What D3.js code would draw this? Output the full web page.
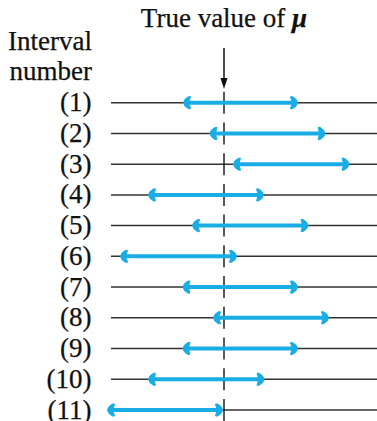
<!DOCTYPE html>
<html><head><meta charset="utf-8">
<script src="https://cdn.jsdelivr.net/npm/d3@7"></script>
<style>body{margin:0;background:#fff}svg{display:block}</style>
</head><body>
<script>
// Data (units relative to true mu = 0)
const intervalNumbers = [1,2,3,4,5,6,7,8,9,10,11];
const lowerBounds = [-4.05,-1.4,0.95,-7.55,-3.15,-10.35,-4.1,-1.05,-4.1,-7.55,-11.65];
const upperBounds = [7.35,10.1,12.5,3.95,8.4,1.25,7.35,10.45,7.35,4.0,-0.15];
const trueMu = 0;
const titleText = "True value of ";
const muSymbol = "μ";
const rowTitle = ["Interval","number"];

const W = 377, H = 421;
const svg = d3.select("body").append("svg").attr("width",W).attr("height",H);
const x = d3.scaleLinear().domain([-11.3,15.3]).range([111,377]);
const y = d3.scalePoint().domain(intervalNumbers).range([102.7,410]);
const blue = "#19ade6";
const font = "'Liberation Serif','Times New Roman',serif";
const fs = 27;

// baseline lines
svg.selectAll("line.base").data(intervalNumbers).join("line")
  .attr("class","base").attr("x1",x.range()[0]).attr("x2",x.range()[1])
  .attr("y1",d=>y(d)).attr("y2",d=>y(d))
  .attr("stroke","#333").attr("stroke-width",1.5);

// labels
svg.selectAll("text.lab").data(intervalNumbers).join("text")
  .attr("class","lab").attr("x",91.5).attr("y",d=>y(d)+8.5)
  .attr("text-anchor","end").attr("font-family",font).attr("font-size",fs)
  .attr("fill","#111").attr("stroke","#111").attr("stroke-width",0.25).text(d=>"("+d+")");

svg.selectAll("text.rt").data(rowTitle).join("text")
  .attr("class","rt").attr("x",92).attr("y",(d,i)=>50+i*30)
  .attr("text-anchor","end").attr("font-family",font).attr("font-size",fs)
  .attr("fill","#111").attr("stroke","#111").attr("stroke-width",0.25).text(d=>d);

// title
const t = svg.append("text").attr("x",x(trueMu)).attr("y",26.5)
  .attr("text-anchor","middle").attr("font-family",font).attr("font-size",fs)
  .attr("fill","#111").attr("stroke","#111").attr("stroke-width",0.25);
t.append("tspan").text(titleText);
t.append("tspan").attr("font-style","italic").attr("font-weight","bold").text(muSymbol);

// arrow down
const mx = x(trueMu);
svg.append("line").attr("x1",mx).attr("x2",mx).attr("y1",48).attr("y2",80)
  .attr("stroke","#111").attr("stroke-width",1.5);
svg.append("path").attr("d",`M${mx-3.5},78 L${mx+3.5},78 L${mx},89 Z`).attr("fill","#111");

// dashed true value line
const dy = y(2)-y(1);
svg.append("line").attr("x1",mx).attr("x2",mx).attr("y1",y(1)-11).attr("y2",H)
  .attr("stroke","#222").attr("stroke-width",1.5)
  .attr("stroke-dasharray",`22,${(dy-22).toFixed(2)}`);

// intervals
const rows = intervalNumbers.map((n,i)=>({n,lo:lowerBounds[i],hi:upperBounds[i]}));
const g = svg.selectAll("g.iv").data(rows).join("g").attr("class","iv");
g.append("line").attr("x1",d=>x(d.lo)+3).attr("x2",d=>x(d.hi)-3)
  .attr("y1",d=>y(d.n)).attr("y2",d=>y(d.n))
  .attr("stroke",blue).attr("stroke-width",4);
const cap = "M0,0 Q0.5,-3.8 5,-6 L7,-6 L5.8,-2 L5.8,2 L7,6 L5,6 Q0.5,3.8 0,0 Z";
g.append("path").attr("d",cap).attr("fill",blue)
  .attr("stroke",blue).attr("stroke-width",1).attr("stroke-linejoin","round")
  .attr("transform",d=>`translate(${x(d.lo)},${y(d.n)})`);
g.append("path").attr("d",cap).attr("fill",blue)
  .attr("stroke",blue).attr("stroke-width",1).attr("stroke-linejoin","round")
  .attr("transform",d=>`translate(${x(d.hi)},${y(d.n)}) scale(-1,1)`);
</script>
</body></html>
